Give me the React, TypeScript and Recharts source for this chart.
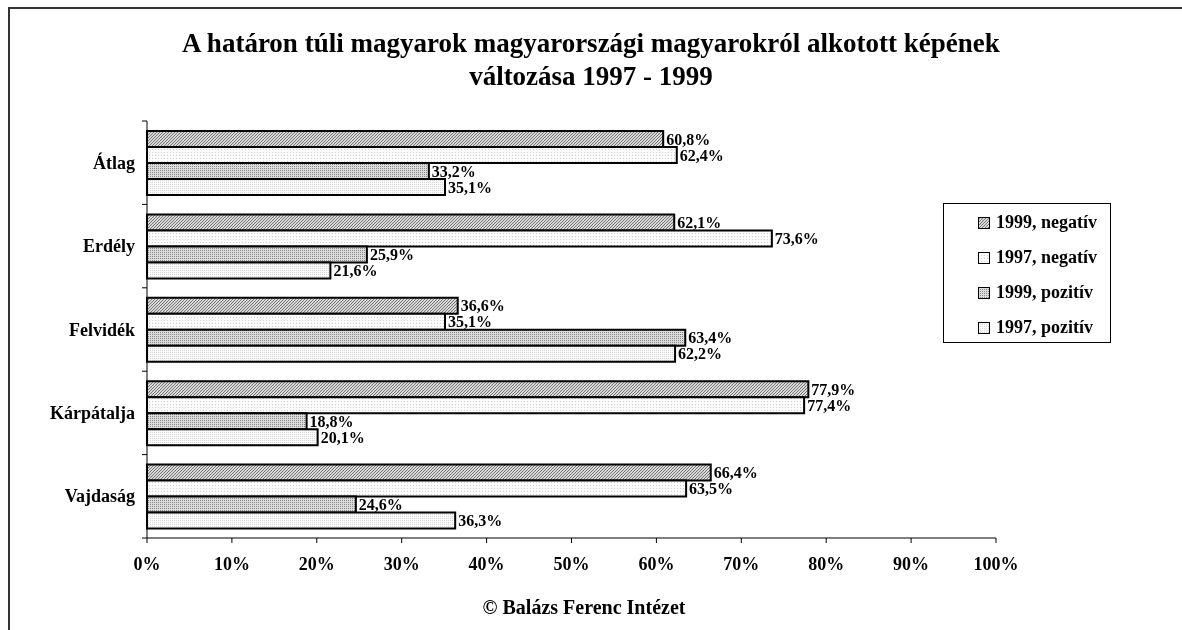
import { BarChart, Bar, XAxis, YAxis, LabelList } from 'recharts';

const regions = ['Átlag', 'Erdély', 'Felvidék', 'Kárpátalja', 'Vajdaság'];
const neg1999 = [60.8, 62.1, 36.6, 77.9, 66.4];
const neg1997 = [62.4, 73.6, 35.1, 77.4, 63.5];
const poz1999 = [33.2, 25.9, 63.4, 18.8, 24.6];
const poz1997 = [35.1, 21.6, 62.2, 20.1, 36.3];
const xTicks = [0, 10, 20, 30, 40, 50, 60, 70, 80, 90, 100];

const series = [
  { key: 'n99', name: '1999, negatív', fill: 'url(#pHatch)' },
  { key: 'n97', name: '1997, negatív', fill: 'url(#pLight)' },
  { key: 'p99', name: '1999, pozitív', fill: 'url(#pGrayDots)' },
  { key: 'p97', name: '1997, pozitív', fill: 'url(#pLightDots)' },
];

const data = regions.map((r, i) => ({
  region: r,
  n99: neg1999[i],
  n97: neg1997[i],
  p99: poz1999[i],
  p97: poz1997[i],
}));

const FONT = '"Liberation Serif", "Times New Roman", serif';

const fmtPct = (v: any) => `${String(v).replace('.', ',')}%`;

function CategoryTick({ x, y, payload, index, visibleTicksCount }: any) {
  const half = payload?.offset ?? 41.7;
  const isLast = index === (visibleTicksCount ?? regions.length) - 1;
  return (
    <g>
      <line x1={x + 3} x2={x + 8} y1={y - half} y2={y - half} stroke="#000" />
      {isLast && <line x1={x + 3} x2={x + 8} y1={y + half} y2={y + half} stroke="#000" />}
      <text x={x - 4} y={y} dy={6} textAnchor="end" fontFamily={FONT} fontWeight="bold" fontSize={18} fill="#000">
        {payload.value}
      </text>
    </g>
  );
}

function LegendBox() {
  return (
    <div
      style={{
        position: 'absolute',
        left: 935,
        top: 195,
        width: 168,
        height: 140,
        border: '1px solid #000',
        background: '#fff',
        boxSizing: 'border-box',
        paddingTop: 1,
        paddingLeft: 34,
      }}
    >
      {series.map((s) => (
        <div
          key={s.key}
          style={{ display: 'flex', alignItems: 'center', height: 35, fontFamily: FONT, fontWeight: 'bold', fontSize: 18 }}
        >
          <svg width={12} height={12} style={{ marginRight: 6 }}>
            <rect x={0.5} y={0.5} width={11} height={11} fill={s.fill} stroke="#000" strokeWidth={1} />
          </svg>
          <span style={{ whiteSpace: 'nowrap' }}>{s.name}</span>
        </div>
      ))}
    </div>
  );
}

export default function App() {
  return (
    <div style={{ position: 'relative', width: 1166, height: 614, background: '#fff' }}>
      <div
        style={{
          position: 'fixed',
          left: 8,
          top: 7,
          right: -20,
          bottom: -20,
          borderLeft: '2px solid #333',
          borderTop: '2px solid #333',
          pointerEvents: 'none',
        }}
      />
      <svg width={0} height={0} style={{ position: 'absolute' }}>
        <defs>
          <pattern id="pHatch" width={3} height={3} patternUnits="userSpaceOnUse">
            <rect width={3} height={3} fill="#d6d6d6" />
            <rect x={0} y={2} width={1} height={1} fill="#7a7a7a" />
            <rect x={1} y={1} width={1} height={1} fill="#7a7a7a" />
            <rect x={2} y={0} width={1} height={1} fill="#7a7a7a" />
          </pattern>
          <pattern id="pLight" width={3} height={3} patternUnits="userSpaceOnUse">
            <rect width={3} height={3} fill="#fbfbfb" />
            <rect width={1} height={1} fill="#cfcfcf" />
          </pattern>
          <pattern id="pGrayDots" width={2} height={2} patternUnits="userSpaceOnUse">
            <rect width={2} height={2} fill="#dcdcdc" />
            <rect width={1} height={1} fill="#8a8a8a" />
          </pattern>
          <pattern id="pLightDots" width={2} height={2} patternUnits="userSpaceOnUse">
            <rect width={2} height={2} fill="#fafafa" />
            <rect width={1} height={1} fill="#d8d8d8" />
          </pattern>
        </defs>
      </svg>

      <div
        style={{
          position: 'absolute',
          left: 0,
          top: 19,
          width: 1166,
          textAlign: 'center',
          fontFamily: FONT,
          fontWeight: 'bold',
          fontSize: 27,
          lineHeight: '33px',
          color: '#000',
          whiteSpace: 'nowrap',
        }}
      >
        A határon túli magyarok magyarországi magyarokról alkotott képének
        <br />
        változása 1997 - 1999
      </div>

      <BarChart
        width={1166}
        height={614}
        data={data}
        layout="vertical"
        margin={{ top: 113, right: 178, bottom: 44, left: 59 }}
        barSize={16}
        barGap={0}
        style={{ position: 'absolute', left: 0, top: 0 }}
      >
        <XAxis
          type="number"
          domain={[0, 100]}
          ticks={xTicks}
          interval={0}
          tickFormatter={(v) => `${v}%`}
          axisLine={{ stroke: '#000' }}
          tickLine={{ stroke: '#000' }}
          tickSize={5}
          tickMargin={14}
          height={40}
          tick={{ fontFamily: FONT, fontWeight: 'bold', fontSize: 18, fill: '#000' }}
        />
        <YAxis
          type="category"
          dataKey="region"
          width={80}
          axisLine={{ stroke: '#000' }}
          tickLine={false}
          tick={<CategoryTick />}
          interval={0}
        />
        {series.map((s) => (
          <Bar
            key={s.key}
            dataKey={s.key}
            name={s.name}
            fill={s.fill}
            stroke="#000"
            strokeWidth={2}
            isAnimationActive={false}
          >
            <LabelList
              dataKey={s.key}
              position="right"
              offset={3}
              formatter={fmtPct}
              style={{ fontFamily: FONT, fontWeight: 'bold', fontSize: 16, fill: '#000' }}
            />
          </Bar>
        ))}
      </BarChart>

      <LegendBox />

      <div
        style={{
          position: 'absolute',
          left: -7,
          top: 587,
          width: 1166,
          textAlign: 'center',
          fontFamily: FONT,
          fontWeight: 'bold',
          fontSize: 20,
          lineHeight: '24px',
          color: '#000',
        }}
      >
        © Balázs Ferenc Intézet
      </div>
    </div>
  );
}
